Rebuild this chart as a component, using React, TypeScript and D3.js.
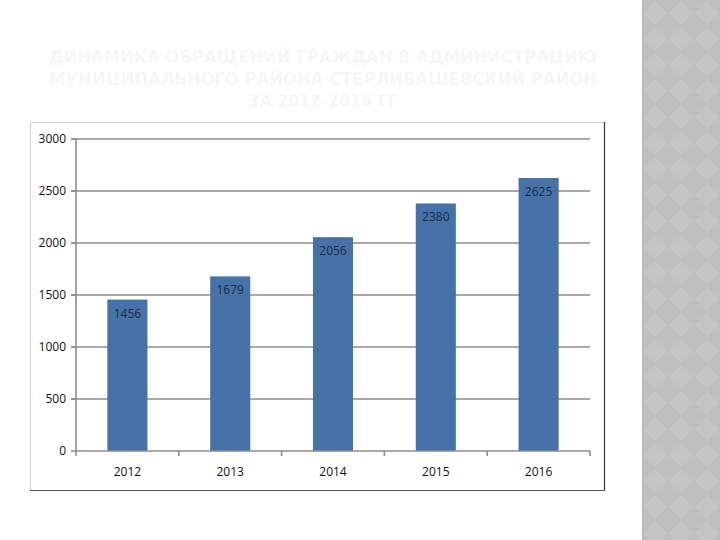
import React from "react";
import * as d3 from "d3";

const categories = ["2012", "2013", "2014", "2015", "2016"];
const values = [1456, 1679, 2056, 2380, 2625];
const yTicks = [0, 500, 1000, 1500, 2000, 2500, 3000];
const titleLines = [
  "ДИНАМИКА ОБРАЩЕНИЙ ГРАЖДАН В АДМИНИСТРАЦИЮ",
  "МУНИЦИПАЛЬНОГО РАЙОНА СТЕРЛИБАШЕВСКИЙ РАЙОН",
  "ЗА 2012-2016 ГГ",
];

export default function App() {
  const W = 720, H = 540;
  const x = d3.scaleBand<string>().domain(categories).range([76, 590]).padding(0);
  const y = d3.scaleLinear().domain([0, 3000]).range([451, 139]);
  const bw = x.bandwidth() * 0.39;
  const font = "'Open Sans', 'Liberation Sans', sans-serif";
  const boundaries = d3.range(categories.length + 1).map((i) => 76 + i * x.bandwidth());

  return (
    <svg width={W} height={H} style={{ position: "absolute", left: 0, top: 0, background: "#fff" }}>
      <defs>
        <pattern id="dia" width="26" height="26" patternUnits="userSpaceOnUse" patternTransform="translate(642,0)">
          <rect width="26" height="26" fill="#bfbfbf" />
          <path d="M13 1 L25 13 L13 25 L1 13 Z" fill="#c5c5c5" />
        </pattern>
      </defs>
      <rect x={0} y={0} width={W} height={H} fill="#ffffff" />
      <rect x={642} y={0} width={78} height={H} fill="url(#dia)" />
      <line x1={642.5} y1={0} x2={642.5} y2={H} stroke="#b8b8b8" strokeWidth={1} />

      {titleLines.map((t, i) => (
        <text
          key={i}
          x={323}
          y={63 + i * 22}
          textAnchor="middle"
          fontFamily="'DejaVu Sans', sans-serif"
          fontWeight="bold"
          fontSize={17}
          fill="#f6f6f6"
          textLength={i < 2 ? 548 : 150}
          lengthAdjust="spacingAndGlyphs"
        >
          {t}
        </text>
      ))}

      {/* chart frame */}
      <rect x={30.5} y={122.5} width={574} height={368} fill="#fff" stroke="#d0d0d0" strokeWidth={1} />
      <line x1={604.5} y1={122} x2={604.5} y2={491} stroke="#333" strokeWidth={1.2} />
      <line x1={30} y1={490.5} x2={605} y2={490.5} stroke="#555" strokeWidth={1} />

      {/* gridlines */}
      {yTicks.filter((v) => v > 0).map((v) => (
        <line key={v} x1={72} x2={590} y1={y(v)} y2={y(v)} stroke="#8c8c8c" strokeWidth={1.6} />
      ))}

      {/* bars */}
      {categories.map((c, i) => {
        const cx = (x(c) as number) + x.bandwidth() / 2;
        return (
          <g key={c}>
            <rect x={cx - bw / 2} y={y(values[i])} width={bw} height={y(0) - y(values[i])} fill="#4672a8" />
            <text x={cx} y={y(values[i]) + 18} textAnchor="middle" fontFamily={font} fontSize={12} fill="#1b2b48">
              {values[i]}
            </text>
          </g>
        );
      })}

      {/* y axis */}
      <line x1={76} x2={76} y1={y(3000)} y2={y(0)} stroke="#8c8c8c" strokeWidth={1.6} />
      {yTicks.map((v) => (
        <g key={v}>
          <line x1={71} x2={76} y1={y(v)} y2={y(v)} stroke="#8c8c8c" strokeWidth={1.6} />
          <text x={66} y={y(v) + 4} textAnchor="end" fontFamily={font} fontSize={12} fill="#111">
            {v}
          </text>
        </g>
      ))}

      {/* x axis */}
      <line x1={76} x2={590} y1={y(0)} y2={y(0)} stroke="#8c8c8c" strokeWidth={1.6} />
      {boundaries.map((bx, i) => (
        <line key={i} x1={bx} x2={bx} y1={y(0)} y2={y(0) + 5} stroke="#8c8c8c" strokeWidth={1.6} />
      ))}
      {categories.map((c) => (
        <text key={c} x={(x(c) as number) + x.bandwidth() / 2} y={476} textAnchor="middle" fontFamily={font} fontSize={12} fill="#111">
          {c}
        </text>
      ))}
    </svg>
  );
}
